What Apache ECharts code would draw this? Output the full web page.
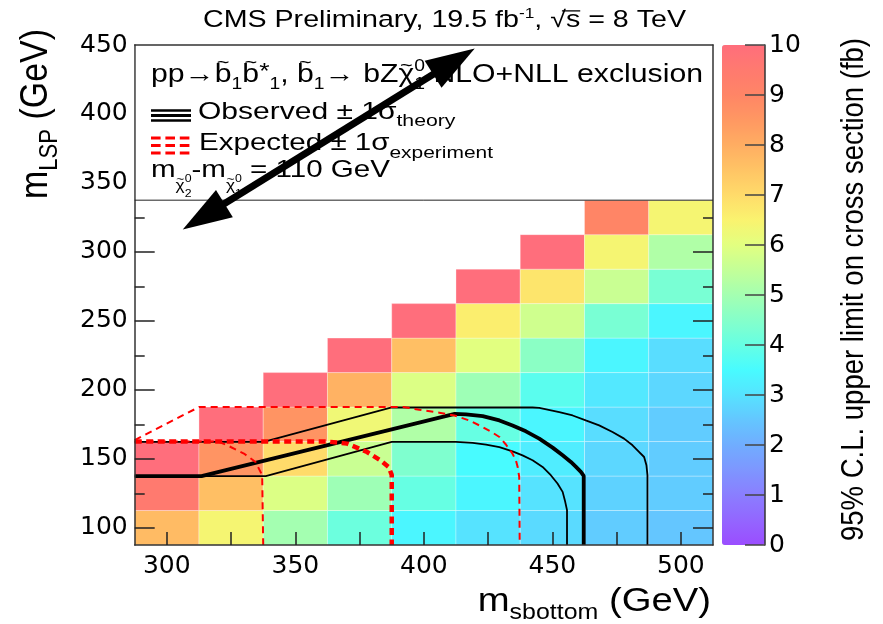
<!DOCTYPE html>
<html><head><meta charset="utf-8">
<script src="https://cdn.jsdelivr.net/npm/echarts@6/dist/echarts.min.js"></script>
<style>html,body{margin:0;padding:0;background:#fff}#c{width:883px;height:624px}</style>
</head><body><div id="c"></div>
<script>
// ---------------- data ----------------
const xCenters = [300, 325, 350, 375, 400, 425, 450, 475, 500];   // m_sbottom (GeV)
const yCenters = [100, 125, 150, 175, 200, 225, 250, 275, 300, 325]; // m_LSP (GeV)
// 95% CL upper limit on cross section (fb), one array per m_LSP row (null = no point)
const limitRow100 = [7.7, 6.4, 5.0, 4.1, 3.4, 3.0, 2.85, 2.6, 2.5];
const limitRow125 = [9.5, 7.6, 5.9, 4.9, 4.0, 3.4, 3.0, 2.7, 2.6];
const limitRow150 = [10, 8.6, 7.0, 5.6, 4.4, 3.5, 3.2, 2.8, 2.6];
const limitRow175 = [null, 10, 8.6, 6.3, 5.2, 4.0, 3.4, 2.9, 2.6];
const limitRow200 = [null, null, 10, 7.9, 5.9, 4.9, 3.8, 3.1, 2.8];
const limitRow225 = [null, null, null, 10, 7.6, 6.0, 4.6, 3.4, 2.9];
const limitRow250 = [null, null, null, null, 10, 6.6, 5.7, 4.3, 3.4];
const limitRow275 = [null, null, null, null, null, 10, 6.8, 5.6, 4.3];
const limitRow300 = [null, null, null, null, null, null, 10, 6.4, 5.2];
const limitRow325 = [null, null, null, null, null, null, null, 9.0, 6.4];

// exclusion contours [m_sbottom, m_LSP]
const observedLimit = [[287.5,137.5],[313.5,137.5],[412,182.6],[416.4,182.2],[422.9,180.9],[429.4,177.8],[434.5,174.2],[439.7,169.9],[444.9,164.6],[450.1,158.1],[454,152.5],[457.2,147.7],[459.2,144.1],[461.1,140.5],[462.2,137.6],[462.2,87.5]];
const observedPlus = [[287.5,162.2],[337.7,162.2],[387.5,187.2],[442.3,187.2],[444.9,186.9],[452.7,183.8],[457.9,181.4],[463,177.8],[468.2,174.2],[473.4,169.4],[477.9,164.6],[481.2,159.8],[483.8,154.9],[485.7,151.3],[486.6,145.3],[487,138.1],[487,87.5]];
const observedMinus = [[287.5,137.5],[338.5,137.5],[387.5,162.2],[412.5,162.2],[419,161.6],[424.2,160.2],[429.4,158.5],[434.5,155.4],[438.4,152.5],[442.3,148.9],[446.2,144.1],[449.4,138.1],[452,132.1],[454,126],[455,118.8],[455.7,112.8],[455.7,87.5]];
const expectedLimit = [[287.5,162.5],[362.3,162.5],[370.2,161],[377.9,154.9],[383.1,148.9],[386.3,144.1],[387.5,138.3],[387.5,87.5]];
const expectedMinus = [[287.5,162.5],[320,162.5],[323.5,159.8],[330,153.8],[334.5,147.7],[337.1,138.1],[337.5,87.5]];
const expectedPlus = [[287.5,163.5],[312.5,187.5],[392,187.5],[398.2,185.6],[406,183.4],[411.9,181.4],[417.7,177.8],[422.9,173],[426.8,168.9],[429.4,165.8],[432,160.2],[434.5,153.7],[435.8,148.9],[436.5,144.1],[437.1,136.9],[437.3,87.5]];
const legendBoxEdge = [[287.5,337.5],[512.5,337.5]];
const legendBoxArea = [[287.5, 337.5, 512.5, 450]];
const arrowEnds = [[306.2, 316.3, 419.8, 447.5]];

// ticks / labels
const xTickValues = [300, 325, 350, 375, 400, 425, 450, 475, 500];
const xLabelValues = [300, 350, 400, 450, 500];
const yMajorTicks = [100, 150, 200, 250, 300];
const yMinorTicks = [125, 175, 225, 275, 325];
const yLabelValues = [100, 150, 200, 250, 300, 350, 400, 450];
const colorbarTicks = [0, 1, 2, 3, 4, 5, 6, 7, 8, 9, 10];
const paletteColors = ['#9b4dff','#9366ff','#8a7eff','#7e96ff','#70adff','#64c6ff','#56e3ff','#48fbff','#66ffe3','#85ffca','#a4ffb1','#c3ff98','#e2ff80','#faf36f','#ffdb6a','#ffc465','#ffad62','#ff9862','#ff8566','#ff7a6f','#ff6e7c'];

// ---------------- build ----------------
const rows = [limitRow100, limitRow125, limitRow150, limitRow175, limitRow200, limitRow225, limitRow250, limitRow275, limitRow300, limitRow325];
const cellData = [];
rows.forEach((r, i) => r.forEach((v, j) => { if (v != null) cellData.push([xCenters[j], yCenters[i], v]); }));

const FF = '"Liberation Sans", Arial, Helvetica, sans-serif';
const TZ = 30;
const mctx = document.createElement('canvas').getContext('2d');
function tw(t, s) { mctx.font = s + 'px ' + FF; return mctx.measureText(t).width; }
function layout(parts, color) {
  let x = 0, prev = null; const els = [];
  for (const p of parts) {
    const w = tw(p.t, p.s);
    let px = x + (p.dx || 0);
    if (p.over && prev) px = prev.x + (prev.w - w) / 2 + (p.dx || 0);
    els.push({type: 'text', x: px, y: (p.dy || 0) - 0.35 * p.s, silent: true, z: TZ,
      style: {text: p.t, font: p.s + 'px ' + FF, fill: p.c || color || '#000',
        align: 'left', verticalAlign: 'middle', textAlign: 'left', textVerticalAlign: 'middle'}});
    if (p.bar) {
      els.push({type: 'line', silent: true, z: TZ, shape: {x1: px - 3, y1: -0.78 * p.s, x2: px + w, y2: -0.78 * p.s}, style: {stroke: '#000', lineWidth: 1.2}});
    }
    if (!p.over && p.adv !== false) { prev = {x: px, w: w}; x = px + w; }
  }
  return {els, width: x};
}
function hText(parts, x0, base, xEnd, sy) {
  const L = layout(parts);
  return {type: 'group', x: x0, y: base, scaleX: (xEnd - x0) / L.width, scaleY: sy || 1, z: TZ, children: L.els};
}
function vText(parts, xBase, yStart, yEnd, stretch) {
  const L = layout(parts);
  return {type: 'group', x: xBase, y: yStart, rotation: Math.PI / 2, scaleX: (yStart - yEnd) / L.width, scaleY: stretch, z: TZ, children: L.els};
}

const titleParts = [{t: 'CMS Preliminary, 19.5 fb', s: 21.5}, {t: '-1', s: 13, dy: -9}, {t: ', ', s: 21.5}, {t: '√', s: 21.5}, {t: 's', s: 21.5, bar: true}, {t: ' = 8 TeV', s: 21.5}];
const line1Parts = [
  {t: 'pp→', s: 25},
  {t: 'b', s: 25}, {t: '~', s: 18, over: true, dy: -15},
  {t: '1', s: 16, dy: 6},
  {t: 'b', s: 25}, {t: '~', s: 18, over: true, dy: -15},
  {t: '*', s: 22, dy: -4},
  {t: '1', s: 16, dy: 6},
  {t: ', ', s: 25},
  {t: 'b', s: 25}, {t: '~', s: 18, over: true, dy: -15},
  {t: '1', s: 16, dy: 6},
  {t: '→ bZ', s: 25},
  {t: 'χ', s: 25}, {t: '~', s: 18, over: true, dy: -12},
  {t: '0', s: 16, dy: -12, adv: false},
  {t: '1', s: 16, dy: 6},
  {t: ' NLO+NLL exclusion', s: 25}
];
const line2Parts = [{t: 'Observed ± 1σ', s: 24}, {t: 'theory', s: 17, dy: 7}];
const line3Parts = [{t: 'Expected ± 1σ', s: 24}, {t: 'experiment', s: 17, dy: 7.5}];
const line4Parts = [
  {t: 'm', s: 24},
  {t: 'χ', s: 14, dy: 13}, {t: '~', s: 11, over: true, dy: 5}, {t: '0', s: 10, dy: 4, adv: false}, {t: '2', s: 10, dy: 19},
  {t: '-m', s: 24},
  {t: 'χ', s: 14, dy: 13}, {t: '~', s: 11, over: true, dy: 5}, {t: '0', s: 10, dy: 4, adv: false}, {t: '1', s: 10, dy: 19},
  {t: ' = 110 GeV', s: 24}
];
const xTitleParts = [{t: 'm', s: 33}, {t: 'sbottom', s: 21.5, dy: 8}, {t: ' (GeV)', s: 33}];
const yTitleParts = [{t: 'm', s: 33}, {t: 'LSP', s: 21.5, dy: 8}, {t: ' (GeV)', s: 33}];
const zTitleParts = [{t: '95% C.L. upper limit on cross section (fb)', s: 27.5}];

const symLine = (x1, y, stroke, w, dash) => ({type: 'line', z: TZ, silent: true, shape: {x1: x1, y1: y, x2: 191, y2: y}, style: {stroke: stroke, lineWidth: w, lineDash: dash || null}});
const graphics = [
  hText(titleParts, 203, 29, 686, 1.08),
  hText(line1Parts, 151, 84, 703),
  hText(line2Parts, 198, 120.5, 455.5),
  hText(line3Parts, 199, 152, 493),
  hText(line4Parts, 151, 178.4, 390),
  hText(xTitleParts, 477.7, 613, 711),
  vText(yTitleParts, 50, 199, 29, 1.16),
  vText(zTitleParts, 865, 541, 38, 1.16),
  symLine(151, 110.5, '#000', 2.5),
  symLine(151, 115.5, '#000', 3),
  symLine(151, 120.5, '#000', 2.5),
  symLine(151, 138, '#ff0000', 3, [9.6, 4.8]),
  symLine(151, 145.5, '#ff0000', 3, [9.6, 4.8]),
  symLine(151, 153, '#ff0000', 3, [9.6, 4.8])
];

const frameLine = {show: true, onZero: false, lineStyle: {color: '#333', width: 1.5}};
const tickStyle = {color: '#222', width: 1.5};
const yBase = {type: 'value', gridIndex: 0, min: 87.5, max: 450, z: 10, splitLine: {show: false}};
const xBase = {type: 'value', gridIndex: 0, min: 287.5, max: 512.5, z: 10, splitLine: {show: false}};
const tickFont = {fontSize: 25, fontFamily: '"DejaVu Sans", sans-serif', color: '#000'};
const hiddenLabel = {show: true, color: 'rgba(0,0,0,0)', fontSize: 1, margin: 0};

const option = {
  animation: false,
  backgroundColor: '#fff',
  grid: [
    {left: 134.7, top: 45, width: 578.3, height: 500, show: false, containLabel: false, outerBoundsMode: 'none'},
    {left: 722, top: 45, width: 43, height: 500, show: false, containLabel: false, outerBoundsMode: 'none'}
  ],
  xAxis: [
    Object.assign({}, xBase, {position: 'bottom', axisLine: frameLine,
      axisTick: {show: true, inside: true, length: 13, customValues: xTickValues, lineStyle: tickStyle},
      axisLabel: Object.assign({customValues: xLabelValues, margin: 9}, tickFont)}),
    Object.assign({}, xBase, {position: 'top', axisLine: frameLine, axisTick: {show: false}, axisLabel: {show: false}}),
    {type: 'value', gridIndex: 1, min: 0, max: 1, show: false}
  ],
  yAxis: [
    Object.assign({}, yBase, {position: 'left', axisLine: frameLine,
      axisTick: {show: true, inside: true, length: 20, customValues: yMajorTicks, lineStyle: tickStyle},
      axisLabel: Object.assign({customValues: yLabelValues, margin: 7}, tickFont)}),
    Object.assign({}, yBase, {position: 'left', axisLine: {show: false, onZero: false},
      axisTick: {show: true, inside: true, length: 10, customValues: yMinorTicks, lineStyle: tickStyle},
      axisLabel: Object.assign({customValues: yMinorTicks}, hiddenLabel)}),
    Object.assign({}, yBase, {position: 'right', axisLine: frameLine,
      axisTick: {show: true, inside: true, length: 20, customValues: yMajorTicks, lineStyle: tickStyle},
      axisLabel: Object.assign({customValues: yMajorTicks}, hiddenLabel)}),
    Object.assign({}, yBase, {position: 'right', axisLine: {show: false, onZero: false},
      axisTick: {show: true, inside: true, length: 10, customValues: yMinorTicks, lineStyle: tickStyle},
      axisLabel: Object.assign({customValues: yMinorTicks}, hiddenLabel)}),
    {type: 'value', gridIndex: 1, min: 0, max: 10, position: 'right', z: 40,
      axisLine: {show: true, onZero: false, lineStyle: {color: '#333', width: 1.5}},
      axisTick: {show: true, inside: true, length: 20, customValues: colorbarTicks, lineStyle: {color: '#444', width: 1.5}},
      axisLabel: Object.assign({margin: 4, customValues: colorbarTicks}, tickFont), splitLine: {show: false}}
  ],
  visualMap: {
    type: 'continuous', seriesIndex: 0, dimension: 2, min: 0, max: 10, z: 1,
    left: 722, top: 45, itemWidth: 43, itemHeight: 500, padding: 0,
    calculable: false, hoverLink: false, text: null, showLabel: false,
    inRange: {color: paletteColors}
  },
  graphic: graphics,
  series: [
    {type: 'custom', xAxisIndex: 0, yAxisIndex: 0, data: cellData, encode: {x: 0, y: 1}, z: 2,
      renderItem: function (params, api) {
        const x = api.value(0), y = api.value(1);
        const p0 = api.coord([x - 12.5, y + 12.5]);
        const p1 = api.coord([x + 12.5, y - 12.5]);
        return {type: 'rect', shape: {x: p0[0], y: p0[1], width: p1[0] - p0[0], height: p1[1] - p0[1]},
          style: {fill: api.visual('color'), stroke: 'rgba(255,255,255,0.3)', lineWidth: 1}};
      }},
    {type: 'custom', xAxisIndex: 0, yAxisIndex: 0, data: legendBoxArea, encode: {x: [0, 2], y: [1, 3]}, z: 11, silent: true,
      renderItem: function (params, api) {
        const p0 = api.coord([api.value(0), api.value(3)]);
        const p1 = api.coord([api.value(2), api.value(1)]);
        return {type: 'rect', shape: {x: p0[0] + 1.2, y: p0[1] + 1.2, width: p1[0] - p0[0] - 2.4, height: p1[1] - p0[1] - 1.2},
          style: {fill: '#fff'}};
      }},
    {type: 'line', data: legendBoxEdge, symbol: 'none', lineStyle: {color: '#222', width: 1}, z: 12},
    {type: 'line', data: observedPlus, symbol: 'none', lineStyle: {color: '#000', width: 1.8}, z: 6},
    {type: 'line', data: observedMinus, symbol: 'none', lineStyle: {color: '#000', width: 1.8}, z: 6},
    {type: 'line', data: observedLimit, symbol: 'none', lineStyle: {color: '#000', width: 3.8}, z: 6},
    {type: 'line', data: expectedPlus, symbol: 'none', lineStyle: {color: '#ff0000', width: 2, type: [7, 5]}, z: 7},
    {type: 'line', data: expectedMinus, symbol: 'none', lineStyle: {color: '#ff0000', width: 2, type: [7, 5]}, z: 7},
    {type: 'line', data: expectedLimit, symbol: 'none', lineStyle: {color: '#ff0000', width: 4.5, type: [7, 4.5]}, z: 7},
    {type: 'custom', xAxisIndex: 0, yAxisIndex: 0, data: arrowEnds, encode: {x: [0, 2], y: [1, 3]}, z: 50, clip: false,
      renderItem: function (params, api) {
        const a = api.coord([api.value(0), api.value(1)]);
        const b = api.coord([api.value(2), api.value(3)]);
        const dx = b[0] - a[0], dy = b[1] - a[1], len = Math.hypot(dx, dy);
        const ux = dx / len, uy = dy / len, nx = -uy, ny = ux;
        const H = 49, W = 16, S = 3.5;
        const a2 = [a[0] + ux * H, a[1] + uy * H], b2 = [b[0] - ux * H, b[1] - uy * H];
        const a3 = [a2[0] - ux * 4, a2[1] - uy * 4], b3 = [b2[0] + ux * 4, b2[1] + uy * 4];
        const st = {fill: '#000'};
        return {type: 'group', children: [
          {type: 'polygon', shape: {points: [[a3[0] + nx * S, a3[1] + ny * S], [b3[0] + nx * S, b3[1] + ny * S], [b3[0] - nx * S, b3[1] - ny * S], [a3[0] - nx * S, a3[1] - ny * S]]}, style: st},
          {type: 'polygon', shape: {points: [a, [a2[0] + nx * W, a2[1] + ny * W], [a2[0] - nx * W, a2[1] - ny * W]]}, style: st},
          {type: 'polygon', shape: {points: [b, [b2[0] + nx * W, b2[1] + ny * W], [b2[0] - nx * W, b2[1] - ny * W]]}, style: st}
        ]};
      }}
  ]
};
const chart = echarts.init(document.getElementById('c'), null, {renderer: 'canvas'});
chart.setOption(option);
</script>
</body></html>
